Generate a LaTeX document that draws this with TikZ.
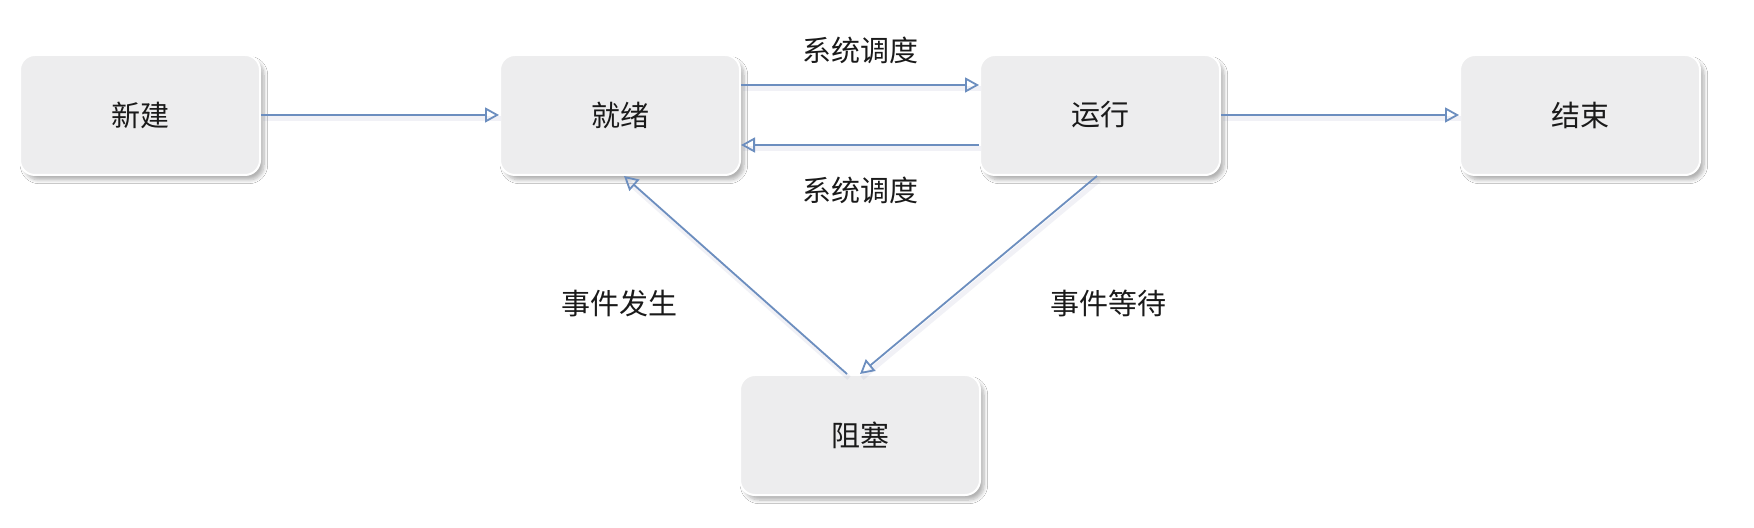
\documentclass[tikz,border=0pt]{standalone}
\usepackage{fontspec}
\newfontfamily\cjk{Noto Sans CJK SC}
\usetikzlibrary{arrows.meta,shadows.blur,positioning,calc}
\definecolor{boxfill}{HTML}{EDEDEE}
\definecolor{linec}{HTML}{6C8EBF}
\definecolor{shadowc}{HTML}{8C93B8}
\definecolor{textc}{HTML}{1A1A1A}
\tikzset{
  state/.style={rectangle, rounded corners=7.5pt, fill=boxfill, draw=white, line width=1pt,
    minimum width=120pt, minimum height=60pt, inner sep=0pt,
    font=\cjk\fontsize{14.5pt}{16pt}\selectfont, text=textc,
    blur shadow={shadow xshift=2pt, shadow yshift=-2.5pt, shadow blur steps=8, shadow blur radius=1.8pt, shadow opacity=30, shadow scale=1}},
  lbl/.style={font=\cjk\fontsize{14.5pt}{16pt}\selectfont, text=textc, inner sep=0pt},
  conn/.style={draw=linec, line width=0.9pt, -{Triangle[open, length=7pt, width=7.5pt, line width=0.9pt]},
    preaction={draw=shadowc, -, line width=2.5pt, opacity=0.12, transform canvas={shift={(1pt,-2pt)}}}},
}
\begin{document}
\begin{tikzpicture}[x=0.5pt,y=-0.5pt]
\useasboundingbox (0,0) rectangle (1754,528);
\fill[white] (0,0) rectangle (1754,528);
\node[state] (new)     at (140,115) {新建};
\node[state] (ready)   at (620,115) {就绪};
\node[state] (run)     at (1100,115) {运行};
\node[state] (done)    at (1580,115) {结束};
\node[state] (blocked) at (860,435) {阻塞};

\coordinate (r1) at ($(ready.east)+(0,-30)$);
\coordinate (u1) at ($(run.west)+(0,-30)$);
\coordinate (r2) at ($(ready.east)+(0,30)$);
\coordinate (u2) at ($(run.west)+(0,30)$);
\coordinate (rb) at ($(ready.south)+(4,0)$);
\coordinate (bt1) at ($(blocked.north)+(-13,0)$);
\coordinate (ub) at ($(run.south)+(-3,0)$);
\coordinate (bt2) at ($(blocked.north)+(0,0)$);

\draw[conn] (new.east) -- (ready.west);
\draw[conn] (r1) -- (u1);
\draw[conn] (u2) -- (r2);
\draw[conn] (run.east) -- (done.west);
\draw[conn] (bt1) -- (rb);
\draw[conn] (ub) -- (bt2);

\node[lbl] (l1) at (860,50) {系统调度};
\node[lbl] (l2) at (860,190) {系统调度};
\node[lbl] (l3) at (619,303) {事件发生};
\node[lbl] (l4) at (1108,303) {事件等待};
\end{tikzpicture}
\end{document}
